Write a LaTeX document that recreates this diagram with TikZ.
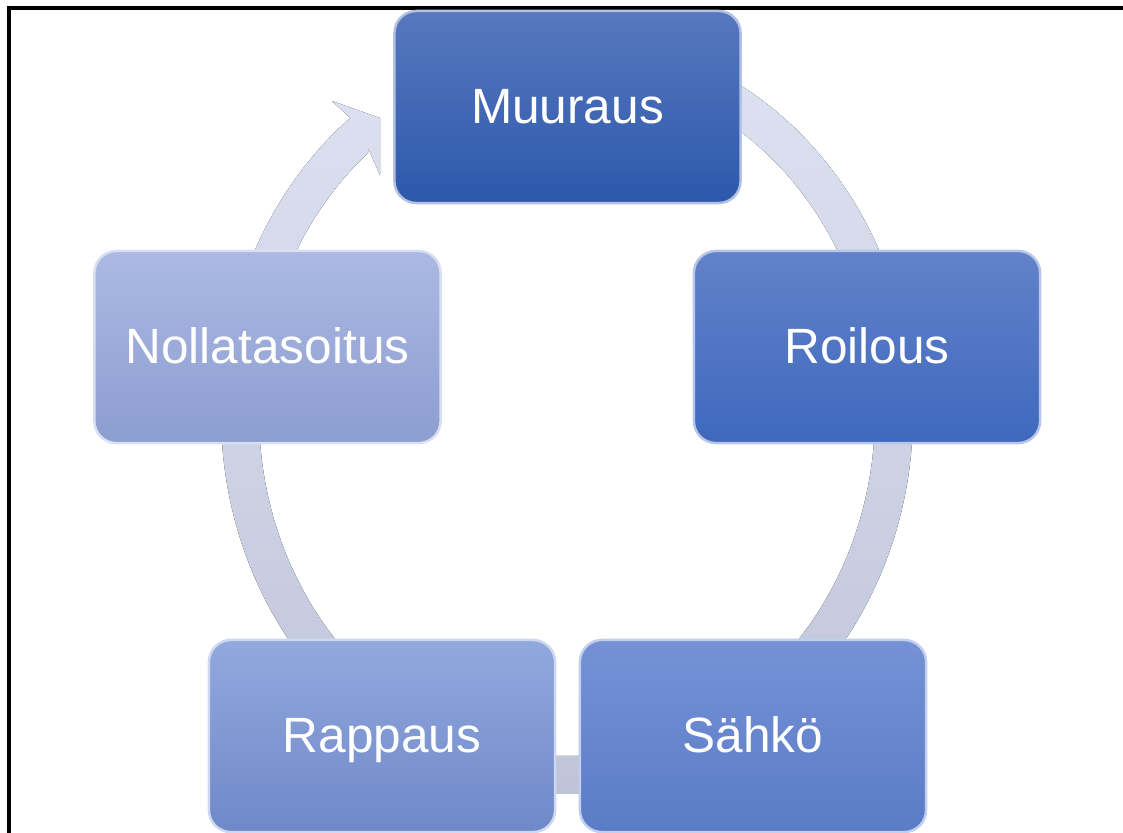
\documentclass[tikz,border=0pt]{standalone}
\usepackage{fontspec}
\setmainfont{Liberation Sans}
\definecolor{mT}{HTML}{5878BF}\definecolor{mB}{HTML}{2C58AB}
\definecolor{rT}{HTML}{6282CA}\definecolor{rB}{HTML}{3F68BD}
\definecolor{sT}{HTML}{7592D6}\definecolor{sB}{HTML}{5A7BC6}
\definecolor{pT}{HTML}{92A9DE}\definecolor{pB}{HTML}{6F88C8}
\definecolor{nT}{HTML}{ABB9E3}\definecolor{nB}{HTML}{8C9DD0}
\definecolor{ringT}{HTML}{DEE3F3}\definecolor{ringB}{HTML}{BFC4D9}
\begin{document}
\begin{tikzpicture}[x=0.01cm,y=-0.01cm,
  stage/.style 2 args={rounded corners=0.22cm, minimum width=3.46cm, minimum height=1.92cm,
    inner sep=0pt, text=white, font=\fontsize{14.1pt}{17pt}\selectfont,
    text height=0.33cm, text depth=0pt,
    top color=#1, bottom color=#2, draw=#1!45!white, line width=0.7pt}]
\useasboundingbox (0,0) rectangle (1123,832);
% frame
\draw[line width=1pt] (9,840) -- (9,8) -- (1130,8);
% ring with arrowhead
\fill[top color=ringT, bottom color=ringB]
  plot[domain=85:-231.2, samples=150] ({567+346*cos(\x)},{414-380*sin(\x)})
  -- (332,101) -- (380,118) -- (380,175) -- (368,148)
  -- plot[domain=-229.8:85, samples=150] ({567+308*cos(\x)},{414-342*sin(\x)})
  -- cycle;
% stages
\node[stage={mT}{mB}] (muuraus) at (567.5,107) {Muuraus};
\node[stage={rT}{rB}] (roilous) at (867,347) {Roilous};
\node[stage={sT}{sB}] (sahko) at (753,736) {Sähkö};
\node[stage={pT}{pB}] (rappaus) at (382,736) {Rappaus};
\node[stage={nT}{nB}] (nolla) at (267.5,347) {Nollatasoitus};
\end{tikzpicture}
\end{document}
